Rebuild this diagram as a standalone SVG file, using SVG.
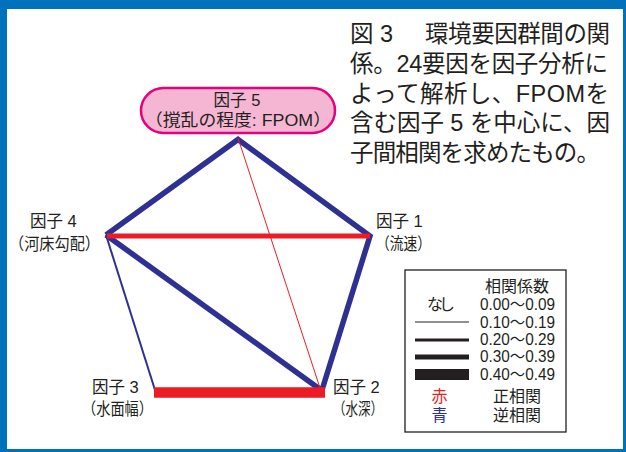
<svg xmlns="http://www.w3.org/2000/svg" width="626" height="452" viewBox="0 0 626 452">
<style>
text{font-family:"Liberation Sans","Noto Sans CJK JP",sans-serif;fill:#231f20;}
.t{font-size:23.5px;}
.n{font-size:16.5px;}
.l{font-size:16px;}
.blue{stroke:#2e3192;fill:none;}
.red{stroke:#ed1c24;fill:none;}
.k{stroke:#231f20;fill:none;}
</style>
<rect x="0" y="0" width="626" height="452" fill="#0071bc"/>
<rect x="7" y="9" width="616" height="440" fill="#ffffff"/>
<g id="title">
<text class="t" x="350" y="42">図 3</text>
<text class="t" x="425" y="42" textLength="185" lengthAdjust="spacing">環境要因群間の関</text>
<text class="t" x="350" y="72" textLength="258" lengthAdjust="spacing">係。24要因を因子分析に</text>
<text class="t" x="350" y="101.5" textLength="259" lengthAdjust="spacing">よって解析し、FPOMを</text>
<text class="t" x="350" y="131" textLength="260" lengthAdjust="spacing">含む因子 5 を中心に、因</text>
<text class="t" x="350" y="161" textLength="250" lengthAdjust="spacing">子間相関を求めたもの。</text>
</g>
<g id="connectors">
<polyline class="blue" points="106,235 238,139.5 370,236 322,390" stroke-width="5.5" stroke-linejoin="miter" stroke-miterlimit="10"/>
<line class="blue" x1="106" y1="235" x2="321" y2="390" stroke-width="5.5"/>
<line class="blue" x1="106" y1="235" x2="155" y2="390" stroke-width="2"/>
<line class="red" x1="107" y1="236" x2="370" y2="236" stroke-width="5"/>
<line class="red" x1="238" y1="138" x2="320" y2="388" stroke-width="1"/>
<line class="red" x1="154" y1="392.5" x2="325" y2="392.5" stroke-width="10.5"/>
</g>
<g id="node5">
<rect x="141" y="88" width="194" height="45" rx="22.5" ry="22.5" fill="#f5b6d3" stroke="#e5007e" stroke-width="2.5"/>
<text class="n" x="237" y="106" text-anchor="middle">因子 5</text>
<text class="n" x="238" y="126" text-anchor="middle" textLength="186" lengthAdjust="spacingAndGlyphs">（撹乱の程度: FPOM）</text>
</g>
<g id="node1">
<text class="n" x="376" y="227">因子 1</text>
<text class="n" x="376" y="250" textLength="55" lengthAdjust="spacingAndGlyphs">（流速）</text>
</g>
<g id="node4">
<text class="n" x="30" y="227">因子 4</text>
<text class="n" x="9" y="250" textLength="91" lengthAdjust="spacingAndGlyphs">（河床勾配）</text>
</g>
<g id="node3">
<text class="n" x="92" y="393">因子 3</text>
<text class="n" x="82" y="415" textLength="71" lengthAdjust="spacingAndGlyphs">（水面幅）</text>
</g>
<g id="node2">
<text class="n" x="333" y="393">因子 2</text>
<text class="n" x="333" y="415" textLength="50" lengthAdjust="spacingAndGlyphs">（水深）</text>
</g>
<g id="legend">
<rect x="405" y="270" width="161" height="162" fill="#ffffff" stroke="#231f20" stroke-width="1.3"/>
<text class="l" x="517" y="292" text-anchor="middle">相関係数</text>
<text class="l" x="427" y="310" textLength="28" lengthAdjust="spacing">なし</text>
<text class="l" x="480" y="310" textLength="75" lengthAdjust="spacingAndGlyphs">0.00～0.09</text>
<line class="k" x1="415" y1="322" x2="469" y2="322" stroke-width="1"/>
<text class="l" x="480" y="328" textLength="75" lengthAdjust="spacingAndGlyphs">0.10～0.19</text>
<line class="k" x1="415" y1="340" x2="469" y2="340" stroke-width="3"/>
<text class="l" x="480" y="345" textLength="75" lengthAdjust="spacingAndGlyphs">0.20～0.29</text>
<line class="k" x1="415" y1="357" x2="469" y2="357" stroke-width="5"/>
<text class="l" x="480" y="362" textLength="75" lengthAdjust="spacingAndGlyphs">0.30～0.39</text>
<line class="k" x1="415" y1="374.5" x2="469" y2="374.5" stroke-width="11"/>
<text class="l" x="480" y="380" textLength="75" lengthAdjust="spacingAndGlyphs">0.40～0.49</text>
<text class="l" x="439.5" y="402" text-anchor="middle" style="fill:#ed1c24">赤</text>
<text class="l" x="517" y="402" text-anchor="middle">正相関</text>
<text class="l" x="439.5" y="421" text-anchor="middle" style="fill:#2e3192">青</text>
<text class="l" x="517" y="421" text-anchor="middle">逆相関</text>
</g>
</svg>
